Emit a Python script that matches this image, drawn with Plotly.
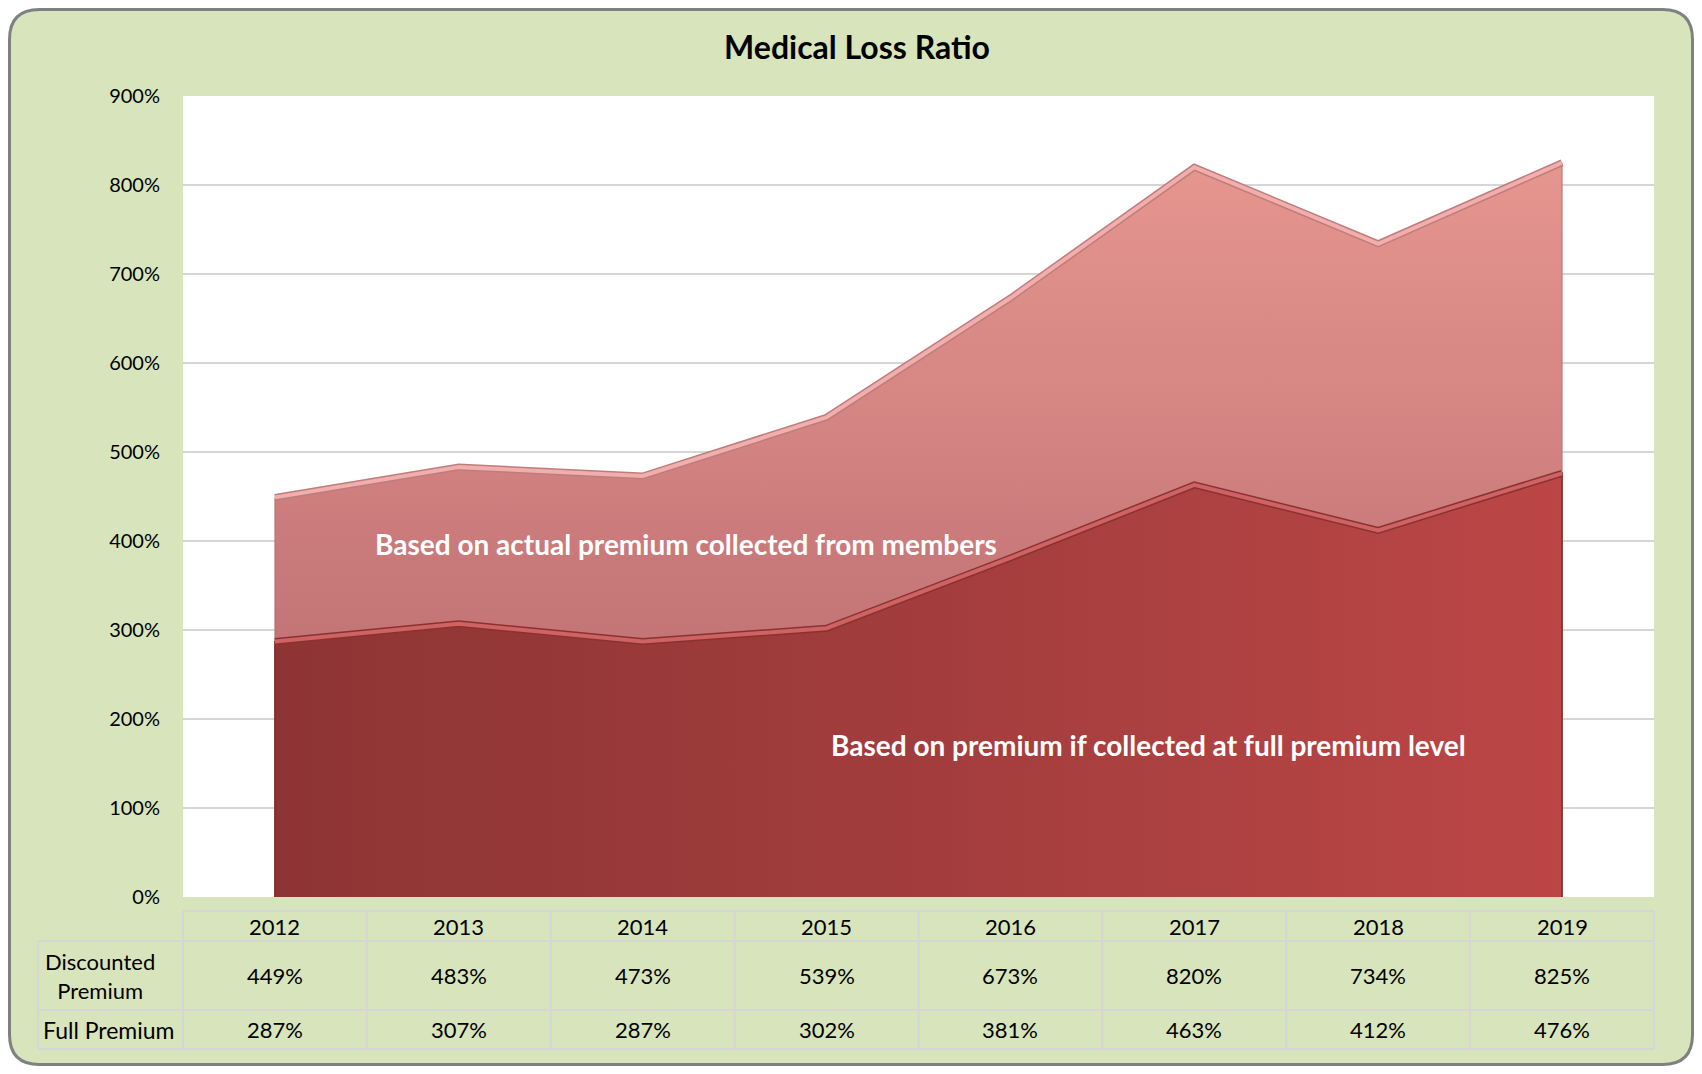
import plotly.graph_objects as go

# ---------------- data ----------------
years = ["2012", "2013", "2014", "2015", "2016", "2017", "2018", "2019"]
discounted = [449, 483, 473, 539, 673, 820, 734, 825]
full = [287, 307, 287, 302, 381, 463, 412, 476]
y_ticks = [0, 100, 200, 300, 400, 500, 600, 700, 800, 900]
row_labels = ["Discounted<br>Premium", "Full Premium"]
chart_title = "Medical Loss Ratio"
label_discounted = "Based on actual premium collected from members"
label_full = "Based on premium if collected at full premium level"

# ---------------- geometry (figure pixels) ----------------
W, H = 1686, 1058
PX0, PX1 = 175, 1646      # plot area left/right
PY0, PY1 = 88, 889        # plot area top/bottom
TB_TOP, TB_H1, TB_H2, TB_BOT = 903, 933, 1002, 1041
LBL_X0 = 30
FONT = "Lato, 'Open Sans', sans-serif"
GREEN = "#D8E4BC"
GRID = "#D6D6D6"


def fx(px):
    return px / W


def fy(py):
    return 1 - py / H


fig = go.Figure()

n = len(years)


def polygon(vals):
    xs = [years[0]] + years + [years[-1]]
    ys = [0] + vals + [0]
    return xs, ys


# discounted premium area (behind)
xs, ys = polygon(discounted)
fig.add_trace(go.Scatter(
    x=xs, y=ys, fill="toself", mode="lines",
    line=dict(color="#B56F6F", width=1),
    fillgradient=dict(type="vertical",
                      colorscale=[[0, "#B06666"], [0.36, "#C47575"],
                                  [0.5, "#CB7B7B"], [0.62, "#D38381"],
                                  [1, "#E6958F"]]),
    hoverinfo="skip", showlegend=False))
fig.add_trace(go.Scatter(x=years, y=discounted, mode="lines",
                         line=dict(color="#C07C7C", width=7),
                         hoverinfo="skip", showlegend=False))
fig.add_trace(go.Scatter(x=years, y=discounted, mode="lines",
                         line=dict(color="#F0AEAC", width=4),
                         hoverinfo="skip", showlegend=False))

# full premium area (front)
xs, ys = polygon(full)
fig.add_trace(go.Scatter(
    x=xs, y=ys, fill="toself", mode="lines",
    line=dict(color="#7E2C2C", width=1.5),
    fillgradient=dict(type="horizontal",
                      colorscale=[[0, "#8E3434"], [0.45, "#A03C3C"],
                                  [1, "#BC4646"]]),
    hoverinfo="skip", showlegend=False))
fig.add_trace(go.Scatter(x=years, y=full, mode="lines",
                         line=dict(color="#8A3232", width=7),
                         hoverinfo="skip", showlegend=False))
fig.add_trace(go.Scatter(x=years, y=full, mode="lines",
                         line=dict(color="#CF6262", width=4),
                         hoverinfo="skip", showlegend=False))

shapes = []
# outer rounded panel
r = 30
x0, y0, x1, y1 = 1.5, 1.5, W - 1.5, H - 1.5
rx, ry = r / W, r / H
path = (f"M {fx(x0)+rx},{fy(y0)} L {fx(x1)-rx},{fy(y0)} "
        f"Q {fx(x1)},{fy(y0)} {fx(x1)},{fy(y0)-ry} "
        f"L {fx(x1)},{fy(y1)+ry} Q {fx(x1)},{fy(y1)} {fx(x1)-rx},{fy(y1)} "
        f"L {fx(x0)+rx},{fy(y1)} Q {fx(x0)},{fy(y1)} {fx(x0)},{fy(y1)+ry} "
        f"L {fx(x0)},{fy(y0)-ry} Q {fx(x0)},{fy(y0)} {fx(x0)+rx},{fy(y0)} Z")
shapes.append(dict(type="path", path=path, xref="paper", yref="paper",
                   fillcolor=GREEN, line=dict(color="#808080", width=3),
                   layer="below"))
# white plot area
shapes.append(dict(type="rect", xref="paper", yref="paper",
                   x0=fx(PX0), x1=fx(PX1), y0=fy(PY1), y1=fy(PY0),
                   fillcolor="white", line=dict(width=0), layer="below"))


# table grid
def hline(xa, xb, py):
    shapes.append(dict(type="line", xref="paper", yref="paper",
                       x0=fx(xa), x1=fx(xb), y0=fy(py), y1=fy(py),
                       line=dict(color=GRID, width=2)))


def vline(px, ya, yb):
    shapes.append(dict(type="line", xref="paper", yref="paper",
                       x0=fx(px), x1=fx(px), y0=fy(ya), y1=fy(yb),
                       line=dict(color=GRID, width=2)))


hline(PX0, PX1, TB_TOP)
for py in (TB_H1, TB_H2, TB_BOT):
    hline(LBL_X0, PX1, py)
colw = (PX1 - PX0) / n
for k in range(n + 1):
    vline(PX0 + k * colw, TB_TOP, TB_BOT)
vline(LBL_X0, TB_H1, TB_BOT)

annotations = []
tfont = dict(family=FONT, size=22, color="black")
yc_head = fy((TB_TOP + TB_H1) / 2)
yc_disc = fy((TB_H1 + TB_H2) / 2)
yc_full = fy((TB_H2 + TB_BOT) / 2)
for i, yr in enumerate(years):
    for yv, txt in ((yc_head, yr), (yc_disc, f"{discounted[i]}%"),
                    (yc_full, f"{full[i]}%")):
        annotations.append(dict(x=i, y=yv, xref="x", yref="paper",
                                text=txt, showarrow=False, font=tfont,
                                xanchor="center", yanchor="middle"))
annotations.append(dict(x=fx(92), y=yc_disc, xref="paper", yref="paper",
                        text=row_labels[0], showarrow=False, font=tfont,
                        align="center", xanchor="center", yanchor="middle"))
annotations.append(dict(x=fx(33), y=yc_full, xref="paper", yref="paper",
                        text=row_labels[1], showarrow=False,
                        font=dict(family=FONT, size=23, color="black"),
                        xanchor="left", yanchor="middle"))

afont = dict(family=FONT, size=28, color="white")
annotations.append(dict(x=fx(678), y=fy(536), xref="paper", yref="paper",
                        text=f"<b>{label_discounted}</b>", showarrow=False,
                        font=afont, xanchor="center", yanchor="middle"))
annotations.append(dict(x=fx(1140), y=fy(737), xref="paper", yref="paper",
                        text=f"<b>{label_full}</b>", showarrow=False,
                        font=afont, xanchor="center", yanchor="middle"))

fig.update_layout(
    width=W, height=H,
    margin=dict(l=0, r=0, t=0, b=0, pad=0, autoexpand=False),
    paper_bgcolor="white",
    plot_bgcolor="rgba(0,0,0,0)",
    title=dict(text=f"<b>{chart_title}</b>", x=fx(849), y=fy(40),
               xanchor="center", yanchor="middle",
               font=dict(family=FONT, size=32, color="black")),
    xaxis=dict(type="category", range=[-0.5, n - 0.5], automargin=False,
               domain=[fx(PX0), fx(PX1)], showticklabels=False,
               showgrid=False, zeroline=False, showline=False, ticks=""),
    yaxis=dict(range=[0, 900], domain=[fy(PY1), fy(PY0)], automargin=False,
               tickvals=y_ticks, ticktext=[f"{v}%" for v in y_ticks],
               showgrid=True, gridcolor=GRID, gridwidth=1.5,
               zeroline=False, showline=False,
               ticks="outside", ticklen=18, tickcolor="rgba(0,0,0,0)",
               tickfont=dict(family=FONT, size=20, color="black")),
    shapes=shapes,
    annotations=annotations,
    showlegend=False,
)

fig.write_html("out.html")
